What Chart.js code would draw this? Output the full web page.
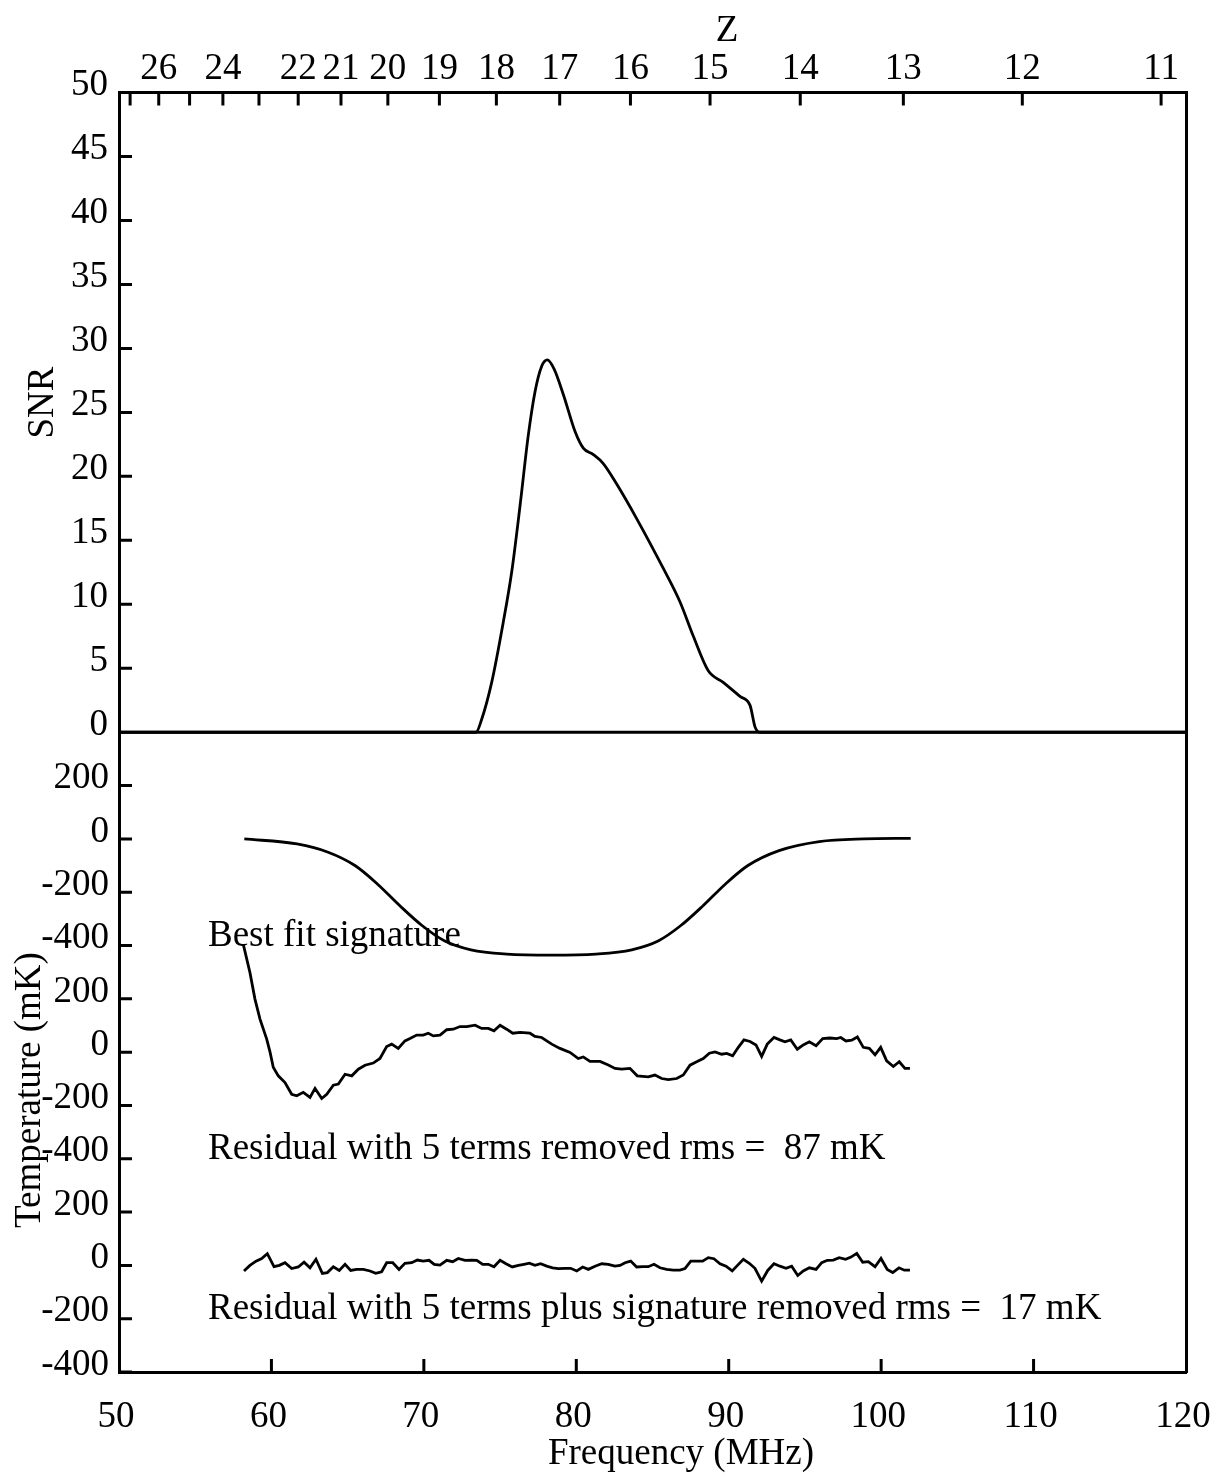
<!DOCTYPE html>
<html><head><meta charset="utf-8">
<script src="https://cdn.jsdelivr.net/npm/chart.js@4.4.1/dist/chart.umd.min.js"></script>
<style>html,body{margin:0;padding:0;background:#fff;}canvas{display:block;}</style>
</head><body>
<canvas id="c" width="1216" height="1476"></canvas>
<script>
// ---------- data ----------
const snrFreq   = [50, 73.42, 73.79, 74.45, 75.21, 75.76, 76.31, 76.85, 77.29, 77.73, 78.10, 78.54, 79.15, 79.92, 80.46, 81.12, 81.77, 82.65, 83.96, 85.71, 86.80, 87.68, 88.66, 89.64, 90.74, 91.40, 91.73, 92.06, 120];
const snrValues = [0, 0, 1.0, 3.9, 8.6, 12.5, 17.7, 23.2, 26.6, 28.6, 29.1, 28.4, 26.4, 23.5, 22.2, 21.7, 21.0, 19.4, 16.7, 12.8, 10.2, 7.5, 4.8, 3.9, 2.8, 2.1, 0.4, 0, 0];

const sigFreq   = [58.22, 61.68, 63.72, 65.48, 66.95, 68.41, 69.88, 71.34, 73.09, 75.44, 78.37, 81.29, 83.64, 85.40, 86.86, 88.33, 89.79, 91.26, 93.30, 95.94, 98.87, 101.94];
const sigValues = [0, -19, -50, -100, -169, -250, -325, -382, -416, -432, -436, -432, -416, -382, -325, -250, -169, -100, -44, -10, 0, 2];

const res5Freq = [58.15, 58.59, 58.92, 59.25, 59.69, 59.91, 60.12, 60.45, 60.89, 61.33, 61.66, 62.09, 62.53, 62.86, 63.30, 63.63, 64.06, 64.39, 64.83, 65.27, 65.70, 66.14, 66.68, 67.12, 67.56, 67.89, 68.32, 68.76, 69.09, 69.53, 69.96, 70.29, 70.62, 71.06, 71.50, 71.93, 72.37, 72.81, 73.36, 73.79, 74.23, 74.60, 75.00, 75.43, 75.83, 76.31, 76.96, 77.29, 77.73, 78.39, 78.93, 79.59, 80.13, 80.46, 80.90, 81.56, 82.10, 82.54, 82.98, 83.52, 84.00, 84.72, 85.16, 85.60, 86.04, 86.59, 87.02, 87.46, 87.90, 88.33, 88.73, 89.10, 89.54, 89.87, 90.26, 90.63, 91.00, 91.40, 91.79, 92.16, 92.53, 92.97, 93.36, 93.69, 94.07, 94.50, 94.89, 95.29, 95.73, 96.17, 96.64, 97.08, 97.35, 97.69, 98.07, 98.44, 98.83, 99.22, 99.60, 99.97, 100.36, 100.80, 101.19, 101.56, 101.89];
const res5Values = [405, 299, 199, 124, 49, 0, -57, -89, -114, -158, -164, -151, -170, -136, -174, -158, -124, -120, -83, -89, -64, -49, -41, -24, 21, 30, 14, 42, 51, 64, 64, 71, 61, 64, 84, 86, 96, 96, 101, 89, 89, 80, 101, 86, 71, 74, 71, 59, 55, 30, 14, -1, -24, -18, -35, -35, -48, -61, -64, -61, -89, -93, -86, -99, -103, -99, -86, -49, -36, -24, -4, 1, -8, -5, -14, 18, 46, 40, 27, -16, 30, 55, 46, 39, 46, 11, 27, 39, 24, 51, 53, 51, 55, 42, 45, 57, 18, 14, -10, 18, -33, -54, -36, -61, -61];

const resSigFreq = [58.20, 58.59, 58.99, 59.36, 59.73, 60.17, 60.52, 60.89, 61.33, 61.76, 62.14, 62.53, 62.92, 63.34, 63.67, 64.06, 64.45, 64.83, 65.20, 65.59, 66.03, 66.47, 66.84, 67.23, 67.56, 67.96, 68.37, 68.76, 69.20, 69.57, 69.96, 70.34, 70.68, 71.06, 71.50, 71.89, 72.26, 72.70, 73.14, 73.47, 73.86, 74.23, 74.60, 75.00, 75.39, 75.80, 76.20, 76.57, 76.92, 77.29, 77.66, 78.06, 78.45, 78.82, 79.26, 79.63, 80.03, 80.42, 80.79, 81.23, 81.67, 82.10, 82.54, 82.87, 83.20, 83.57, 83.96, 84.36, 84.72, 85.10, 85.49, 85.93, 86.36, 86.80, 87.13, 87.51, 87.90, 88.29, 88.66, 89.03, 89.43, 89.82, 90.23, 90.59, 90.96, 91.35, 91.72, 92.16, 92.56, 92.97, 93.36, 93.76, 94.13, 94.53, 94.89, 95.29, 95.73, 96.10, 96.47, 96.86, 97.25, 97.67, 98.02, 98.40, 98.79, 99.16, 99.60, 99.99, 100.40, 100.76, 101.17, 101.52, 101.89];
const resSigValues = [-21, 0, 16, 26, 44, -5, 0, 10, -12, -6, 12, -9, 23, -30, -27, -5, -19, 4, -19, -15, -15, -21, -30, -24, 10, 10, -15, 8, 10, 20, 16, 19, 4, 1, 19, 14, 26, 19, 20, 19, 4, 4, -5, 19, 6, -6, 0, 4, 8, 0, 6, -3, -9, -12, -11, -11, -21, -6, -15, -3, 6, 4, -3, 0, 10, 16, -6, -5, -5, 4, -9, -15, -18, -18, -12, 16, 16, 16, 29, 25, 6, -3, -21, 1, 23, 8, -11, -59, -19, 6, -3, -11, -3, -38, -21, -9, -15, 10, 19, 20, 29, 23, 31, 45, 12, 14, -5, 26, -15, -27, -9, -18, -18];

// offsets of the three stacked traces in the lower panel (mK)
const traceOffsets = [1600, 800, 0];

// tick labels
const freqTicks = [50, 60, 70, 80, 90, 100, 110, 120];
const snrTicks = [0, 5, 10, 15, 20, 25, 30, 35, 40, 45, 50];
const tempTickValues = [-400, -200, 0, 200, 400, 600, 800, 1000, 1200, 1400, 1600, 1800];
const tempTickLabels = ['-400', '-200', '0', '200', '-400', '-200', '0', '200', '-400', '-200', '0', '200'];
const zTicks = [27, 26, 25, 24, 23, 22, 21, 20, 19, 18, 17, 16, 15, 14, 13, 12, 11];
const zLabeled = [26, 24, 22, 21, 20, 19, 18, 17, 16, 15, 14, 13, 12, 11];
const HI_REST_MHZ = 1420.4;

const FONT = "'Liberation Serif', 'Times New Roman', serif";
const FS = 37;

const pts = (xs, ys, off) => xs.map((x, i) => ({x: x, y: ys[i] + (off || 0)}));

const lineDS = (data, axis, smooth) => ({
  data: data, xAxisID: 'x', yAxisID: axis, clip: false,
  borderColor: '#000', borderWidth: 2.8, pointRadius: 0, fill: false,
  tension: smooth ? 0.4 : 0, cubicInterpolationMode: smooth ? 'monotone' : 'default'
});

const inwardTicks = {
  id: 'inwardTicks',
  afterDraw(chart) {
    const ctx = chart.ctx, a = chart.chartArea, L = 13;
    ctx.save();
    ctx.strokeStyle = '#000'; ctx.lineWidth = 3; ctx.beginPath();
    const xs = chart.scales.x;
    xs.ticks.forEach(t => { const p = xs.getPixelForValue(t.value); if (p > a.left + 2 && p < a.right - 2) { ctx.moveTo(p, a.bottom); ctx.lineTo(p, a.bottom - L); } });
    const xz = chart.scales.xz;
    xz.ticks.forEach(t => { const p = xz.getPixelForValue(t.value); ctx.moveTo(p, a.top); ctx.lineTo(p, a.top + L); });
    ['ySnr', 'yTemp'].forEach(id => {
      const s = chart.scales[id];
      s.ticks.forEach(t => { const p = s.getPixelForValue(t.value); ctx.moveTo(a.left, p); ctx.lineTo(a.left + L, p); });
    });
    // panel separator along SNR = 0
    const y0 = chart.scales.ySnr.getPixelForValue(0);
    ctx.moveTo(a.left, y0); ctx.lineTo(a.right, y0);
    ctx.stroke();

    // titles and annotations
    ctx.fillStyle = '#000';
    ctx.font = FS + 'px ' + FONT;
    ctx.textBaseline = 'alphabetic';
    const yT = chart.scales.yTemp, xS = chart.scales.x;
    ctx.textAlign = 'left';
    const ax = xS.getPixelForValue(55.84);
    ctx.fillText('Best fit signature', ax, yT.getPixelForValue(-400 + traceOffsets[0]));
    ctx.fillText('Residual with 5 terms removed rms =  87 mK', ax, yT.getPixelForValue(-400 + traceOffsets[1]));
    ctx.fillText('Residual with 5 terms plus signature removed rms =  17 mK', ax, yT.getPixelForValue(-200 + traceOffsets[2]));

    ctx.textAlign = 'center';
    ctx.fillText('Z', a.left + 608, 41);
    ctx.fillText('Frequency (MHz)', a.left + 562, 1464);

    ctx.save();
    ctx.translate(53, 402.5); ctx.rotate(-Math.PI / 2);
    ctx.fillText('SNR', 0, 0);
    ctx.restore();
    ctx.save();
    ctx.translate(40, 1090); ctx.rotate(-Math.PI / 2);
    ctx.fillText('Temperature (mK)', 0, 0);
    ctx.restore();
    ctx.restore();
  }
};

const tickFont = {family: FONT, size: FS};
const border = {display: true, color: '#000', width: 3};
const noSidePad = s => { s.paddingLeft = 0; s.paddingRight = 0; };

new Chart(document.getElementById('c'), {
  type: 'line',
  data: {
    datasets: [
      lineDS(pts(snrFreq, snrValues), 'ySnr', true),
      lineDS(pts(sigFreq, sigValues, traceOffsets[0]), 'yTemp', true),
      lineDS(pts(res5Freq, res5Values, traceOffsets[1]), 'yTemp', false),
      lineDS(pts(resSigFreq, resSigValues, traceOffsets[2]), 'yTemp', false)
    ]
  },
  options: {
    responsive: false, animation: false, devicePixelRatio: 1,
    layout: {padding: 0},
    plugins: {legend: {display: false}, tooltip: {enabled: false}},
    scales: {
      x: {
        type: 'linear', position: 'bottom', min: 50, max: 120,
        afterBuildTicks: s => { s.ticks = freqTicks.map(v => ({value: v})); },
        afterFit: s => { s.height = 104; noSidePad(s); },
        grid: {display: false, drawTicks: false},
        border: border,
        ticks: {font: tickFont, color: '#000', padding: 23, labelOffset: -3, maxRotation: 0, autoSkip: false}
      },
      xz: {
        type: 'linear', position: 'top', min: 50, max: 120,
        afterBuildTicks: s => { s.ticks = zTicks.map(z => ({value: HI_REST_MHZ / (1 + z)})); },
        afterFit: s => { s.height = 92.5; noSidePad(s); },
        grid: {display: false, drawTicks: false},
        border: border,
        ticks: {font: tickFont, color: '#000', padding: 1, maxRotation: 0, autoSkip: false,
          callback: (v, i) => zLabeled.includes(zTicks[i]) ? String(zTicks[i]) : ''}
      },
      yTemp: {
        type: 'linear', position: 'left', stack: 'left', stackWeight: 1, min: -400, max: 2000,
        afterBuildTicks: s => { s.ticks = tempTickValues.map(v => ({value: v})); },
        afterFit: s => { s.width = 119; },
        grid: {display: false, drawTicks: false},
        border: border,
        ticks: {font: tickFont, color: '#000', padding: 10, labelOffset: -7, autoSkip: false,
          callback: (v, i) => tempTickLabels[i]}
      },
      ySnr: {
        type: 'linear', position: 'left', stack: 'left', stackWeight: 1, min: 0, max: 50,
        afterBuildTicks: s => { s.ticks = snrTicks.map(v => ({value: v})); },
        afterFit: s => { s.width = 119; },
        grid: {display: false, drawTicks: false},
        border: border,
        ticks: {font: tickFont, color: '#000', padding: 11, labelOffset: -7, autoSkip: false}
      },
      yRight: {
        type: 'linear', position: 'right', min: 0, max: 1,
        afterFit: s => { s.width = 30; },
        grid: {display: false, drawTicks: false},
        border: border,
        ticks: {display: false}
      }
    }
  },
  plugins: [inwardTicks]
});
</script>
</body></html>
